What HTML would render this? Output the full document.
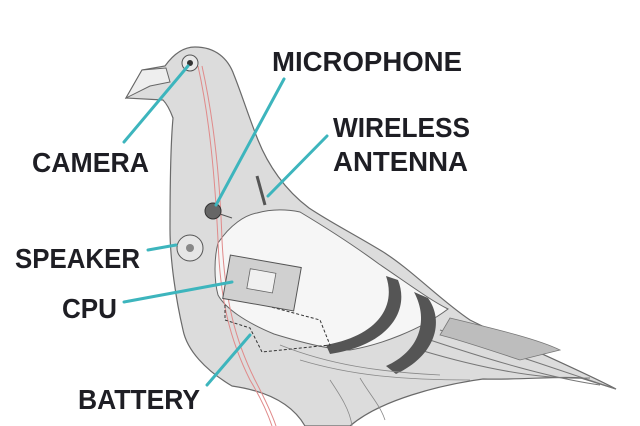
<!DOCTYPE html>
<html><head><meta charset="utf-8"><style>
html,body{margin:0;padding:0;background:#fff;}
svg{display:block}
text{font-family:"Liberation Sans",sans-serif;font-weight:bold;fill:#1e1e24;font-size:28px}
</style></head><body>
<svg width="640" height="426" viewBox="0 0 640 426" xmlns="http://www.w3.org/2000/svg">
<rect width="640" height="426" fill="#fff"/>
<path d="M163,100 L126,98 L142,70 L165,66 C175,52 185,47 195,47 C215,47 228,58 234,75 C242,95 248,115 258,140 C268,165 285,190 309,208 C330,222 350,232 380,250 C410,268 440,300 470,320 C520,345 580,370 616,389 L581,378 C560,376 520,380 483,379 C440,385 380,400 350,426 L305,426 C290,400 260,390 232,386 C205,370 187,350 183,330 C176,300 170,260 170,229 C170,180 171,140 173,118 C170,110 167,104 163,100 Z" fill="#dcdcdc" stroke="#6a6a6a" stroke-width="1.2"/>
<path d="M126,98 L142,70 L166,68 L170,82 L150,86 Z" fill="#eeeeee" stroke="#666" stroke-width="1"/>
<path d="M440,330 C500,350 560,370 616,389 M430,340 C490,360 550,378 600,385 M420,350 C480,368 540,380 590,378" stroke="#777" fill="none" stroke-width="1"/>
<path d="M450,318 C500,330 540,340 560,350 L520,360 C490,350 460,340 440,335 Z" fill="#bdbdbd" stroke="#777" stroke-width="0.8"/>
<path d="M218,243 C230,225 245,215 257,213 C275,208 290,210 300,212 C330,230 360,250 379,264 C410,285 430,300 448,309 C420,330 380,345 350,350 C330,350 300,342 274,334 C245,322 225,308 218,295 C214,280 214,258 218,243 Z" fill="#f6f6f6" stroke="#666" stroke-width="1"/>
<path d="M386,276 C396,305 380,335 326,345 L330,354 C390,345 410,310 398,280 Z" fill="#555"/>
<path d="M414,292 C430,322 418,352 386,366 L396,374 C435,356 445,322 428,298 Z" fill="#555"/>
<path d="M280,345 C330,365 380,372 440,375 M300,360 C350,375 400,380 470,380 M330,380 C340,395 350,410 352,426 M360,378 C370,395 380,405 385,420" stroke="#888" fill="none" stroke-width="0.8"/>
<path d="M198,66 C210,120 215,180 218,240 C220,300 230,340 250,380 C265,405 270,420 272,426" stroke="#e08a8a" fill="none" stroke-width="1"/>
<path d="M202,66 C214,120 220,180 222,240 C225,300 235,340 255,380 C268,405 274,420 276,426" stroke="#e08a8a" fill="none" stroke-width="1"/>
<path d="M225,305 L225,320 L250,328 L262,352 L330,345 L320,320 L245,300" stroke="#333" fill="none" stroke-width="1" stroke-dasharray="3,2"/>
<g transform="translate(262,283) rotate(10)">
<rect x="-36" y="-22" width="72" height="44" fill="#d0d0d0" stroke="#555" stroke-width="1"/>
<rect x="-14" y="-12" width="26" height="20" fill="#f0f0f0" stroke="#666" stroke-width="0.8"/>
</g>
<circle cx="190" cy="63" r="8" fill="#e8e8e8" stroke="#555"/>
<circle cx="190" cy="63" r="3" fill="#333"/>
<circle cx="213" cy="211" r="8" fill="#666" stroke="#333"/>
<line x1="220" y1="214" x2="232" y2="218" stroke="#555"/>
<line x1="257" y1="176" x2="265" y2="205" stroke="#555" stroke-width="3"/>
<circle cx="190" cy="248" r="13" fill="#e6e6e6" stroke="#555"/>
<circle cx="190" cy="248" r="4" fill="#888"/>
<g stroke="#3db5bd" stroke-width="3" stroke-linecap="round">
<line x1="124" y1="142" x2="188" y2="66"/>
<line x1="284" y1="79" x2="216" y2="205"/>
<line x1="327" y1="136" x2="268" y2="196"/>
<line x1="148" y1="250" x2="176" y2="245"/>
<line x1="124" y1="302" x2="232" y2="282"/>
<line x1="207" y1="385" x2="250" y2="335"/>
</g>
<text x="272" y="71" textLength="190" lengthAdjust="spacingAndGlyphs">MICROPHONE</text>
<text x="333" y="137" textLength="137" lengthAdjust="spacingAndGlyphs">WIRELESS</text>
<text x="333" y="171" textLength="135" lengthAdjust="spacingAndGlyphs">ANTENNA</text>
<text x="32" y="172" textLength="117" lengthAdjust="spacingAndGlyphs">CAMERA</text>
<text x="15" y="268" textLength="125" lengthAdjust="spacingAndGlyphs">SPEAKER</text>
<text x="62" y="318" textLength="55" lengthAdjust="spacingAndGlyphs">CPU</text>
<text x="78" y="409" textLength="122" lengthAdjust="spacingAndGlyphs">BATTERY</text>
</svg>
</body></html>
